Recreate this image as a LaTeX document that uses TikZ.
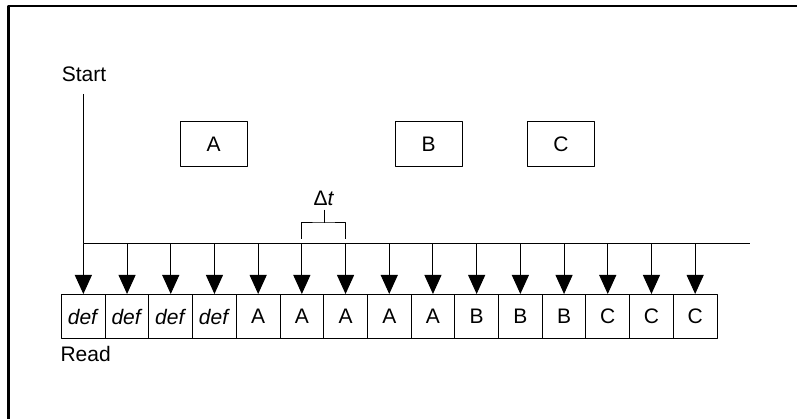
\documentclass[tikz,border=0pt]{standalone}
\usepackage{fontspec}
\setmainfont{Liberation Sans}
\usetikzlibrary{arrows.meta,positioning}
\tikzset{cell/.style={draw,line width=1pt,minimum width=43.7pt,minimum height=44pt,inner sep=0pt,anchor=north west},
	blk/.style={draw,line width=1pt,minimum width=67pt,minimum height=45pt}}
\begin{document}
\begin{tikzpicture}[x=1pt,y=-1pt,>={Triangle[width=17pt,length=19pt]}, font=\fontsize{21}{24}\selectfont, line join=round, line width=1pt]
		%	\draw[color=gray!50,dashed] (0,0) grid[step=50] (797,419);
		\useasboundingbox (0,0) rectangle (797,419);
		\draw[line width=2.4pt] (8.6,419) -- (8.6,6) -- (797,6);
		\node (start) at (84,74) {Start};
		\coordinate (s0) at (83,94);
		\coordinate (tend) at (750,244);
		\draw (s0) |- (tend);
		\node[blk] (A) at (213.5,144.5) {A};
		\node[blk] (B) at (428.5,144.5) {B};
		\node[blk] (C) at (561,144.5) {C};
		\foreach \lab [count=\i from 0] in {\textit{def},\textit{def},\textit{def},\textit{def},A,A,A,A,A,B,B,B,C,C,C}
			\node[cell] (c\i) at (61+\i*43.7,294) {\lab};
		\foreach \i in {0,...,14}
			\draw[->] (c\i.north |- tend) -- (c\i.north);
		\node (dt) at (324,198.5) {Δ\textit{t}};
		\draw (dt.south) -- (dt.south |- 0,223);
		\draw (c5.north |- 0,239) |- (dt.south |- 0,223) -| (c6.north |- 0,239);
		\node[anchor=north west,inner sep=0pt] (read) at ([xshift=-1pt,yshift=-7pt]c0.south west) {Read};
\end{tikzpicture}
\end{document}
